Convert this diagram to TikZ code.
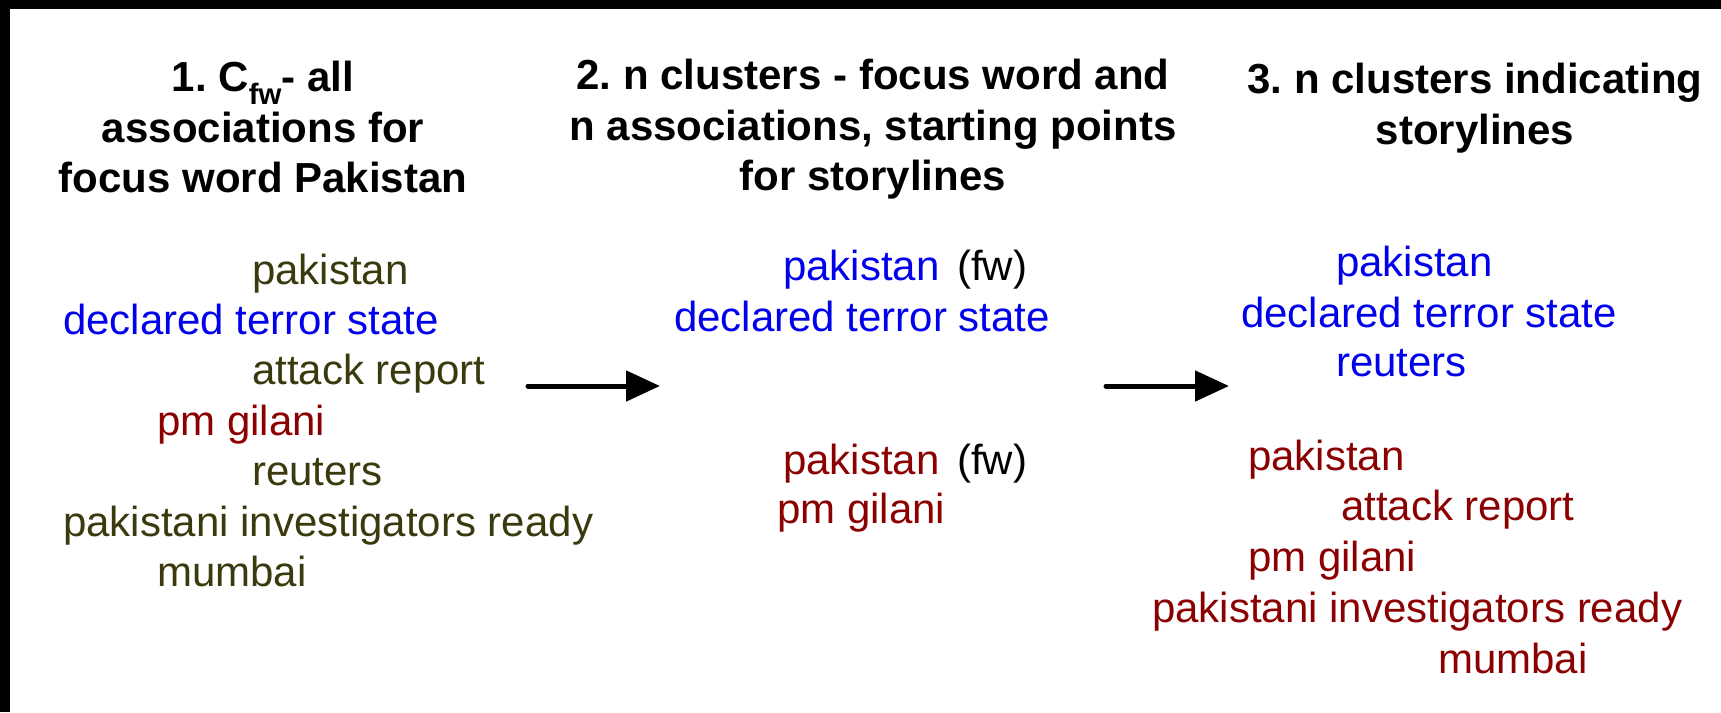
\documentclass[tikz,border=0pt]{standalone}
\usepackage{fontspec}
\setmainfont{Liberation Sans}
\usetikzlibrary{arrows.meta}
\definecolor{wordolive}{RGB}{58,58,14}
\definecolor{wordblue}{RGB}{0,0,235}
\definecolor{wordred}{RGB}{139,0,0}
\frenchspacing
\begin{document}
\begin{tikzpicture}[x=1pt,y=-1pt,
  heading/.style={anchor=north, inner sep=0pt, align=center,
    font=\bfseries\fontsize{42}{50.4}\selectfont},
  word/.style={anchor=base west, inner sep=0pt,
    font=\fontsize{42}{50.4}\selectfont},
  olive word/.style={word, text=wordolive},
  blue word/.style={word, text=wordblue},
  red word/.style={word, text=wordred},
  flow/.style={line width=5pt, line cap=round, -{Triangle[length=34pt,width=30pt]}}]
  % canvas with its dark frame on top and left
  \useasboundingbox (0,0) rectangle (1721,712);
  \fill[white] (0,0) rectangle (1721,712);
  \fill[black] (0,0) rectangle (1721,9);
  \fill[black] (0,0) rectangle (10,712);

  % column headings
  \node[heading] (h1) at (263,61) {1. C\textsubscript{fw}- all\\associations for\\focus word Pakistan};
  \node[heading] (h2) at (873,59) {2. n clusters - focus word and\\n associations, starting points\\for storylines};
  \node[heading] (h3) at (1475,63) {3. n clusters indicating\\storylines};

  % column 1: all associations
  \node[olive word] (c1a) at (252,284) {pakistan};
  \node[blue word]  (c1b) at (63,334.4) {declared terror state};
  \node[olive word] (c1c) at (252,384.8) {attack report};
  \node[red word]   (c1d) at (157,435.2) {pm gilani};
  \node[olive word] (c1e) at (252,485.6) {reuters};
  \node[olive word] (c1f) at (63,536) {pakistani investigators ready};
  \node[olive word] (c1g) at (157,586.4) {mumbai};

  % column 2: seed clusters
  \node[blue word] (c2a) at (783,280) {pakistan};
  \node[word] (c2afw) at (957,280) {(fw)};
  \node[blue word] (c2b) at (674,331) {declared terror state};
  \node[red word] (c2c) at (783,474) {pakistan};
  \node[word] (c2cfw) at (957,474) {(fw)};
  \node[red word] (c2d) at (777,523) {pm gilani};

  % column 3: storyline clusters
  \node[blue word] (c3a) at (1336,276) {pakistan};
  \node[blue word] (c3b) at (1241,327) {declared terror state};
  \node[blue word] (c3c) at (1336,376) {reuters};
  \node[red word] (c3d) at (1248,470) {pakistan};
  \node[red word] (c3e) at (1341,520) {attack report};
  \node[red word] (c3f) at (1248,571) {pm gilani};
  \node[red word] (c3g) at (1152,622) {pakistani investigators ready};
  \node[red word] (c3h) at (1438,673) {mumbai};

  % arrows between the stages
  \coordinate (s1) at (528,386);
  \coordinate (e1) at (660,386);
  \coordinate (s2) at (1106,386);
  \coordinate (e2) at (1229,386);
  \draw[flow] (s1) -- (e1);
  \draw[flow] (s2) -- (e2);
\end{tikzpicture}
\end{document}
